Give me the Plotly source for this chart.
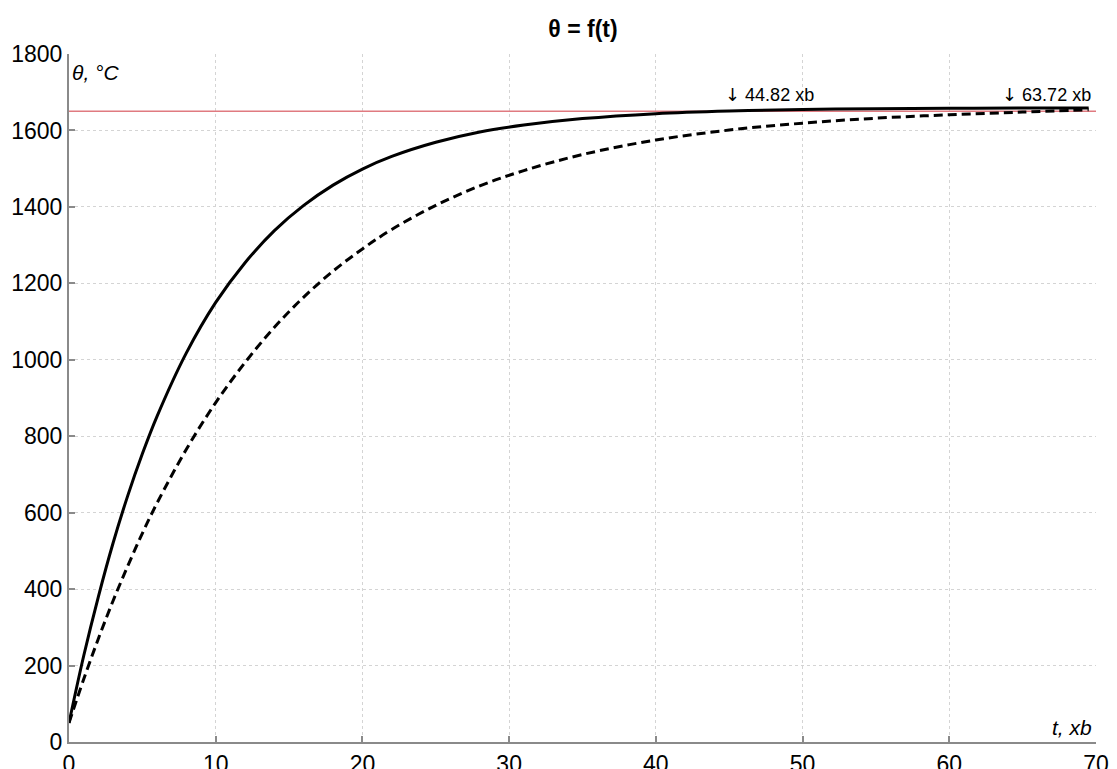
import plotly.graph_objects as go

# Data
t_points = [0, 1, 2, 3, 4, 5, 6, 8, 10, 12, 14, 16, 18, 20, 22, 25, 28, 31, 35, 40, 45, 50, 55, 60, 65, 69.5]
theta_solid = [50, 225, 380, 520, 644, 754, 852, 1018, 1150, 1254, 1338, 1404, 1457, 1499, 1532,
               1569, 1596, 1614, 1631, 1644, 1651, 1655, 1657, 1658, 1659, 1659]
theta_dashed = [50, 164, 270, 369, 460, 546, 625, 766, 888, 993, 1085, 1164, 1232, 1290, 1341,
                1404, 1455, 1495, 1537, 1575, 1601, 1619, 1632, 1641, 1648, 1654]
limit_temp = 1650
x_range = [0, 70]
y_range = [0, 1800]
x_ticks = [0, 10, 20, 30, 40, 50, 60, 70]
y_ticks = [0, 200, 400, 600, 800, 1000, 1200, 1400, 1600, 1800]
marker_times = [44.82, 63.72]
marker_labels = ["44.82 xb", "63.72 xb"]
marker_level = 1695

FONT = "Liberation Sans, Arial, sans-serif"
W, H = 1109, 761  # page body has an 8px margin

fig = go.Figure()
fig.add_trace(go.Scatter(x=x_range, y=[limit_temp, limit_temp], mode="lines",
                         line=dict(color="#e07a80", width=1.5), hoverinfo="skip"))
fig.add_trace(go.Scatter(x=t_points, y=theta_dashed, mode="lines", line_shape="spline",
                         line=dict(color="black", width=3, dash="9px,5px")))
fig.add_trace(go.Scatter(x=t_points, y=theta_solid, mode="lines", line_shape="spline",
                         line=dict(color="black", width=3)))

for tx, lab in zip(marker_times, marker_labels):
    fig.add_annotation(x=tx, y=marker_level, showarrow=False, xanchor="left", xshift=-4,
                       text="<span style='font-family:DejaVu Sans'>↓</span> " + lab,
                       font=dict(family=FONT, size=18, color="black"))

fig.add_annotation(x=0, y=1800, xref="x", yref="y", text="<i>θ, °C</i>", showarrow=False,
                   xanchor="left", yanchor="top", xshift=1, yshift=-5,
                   font=dict(family=FONT, size=21, color="black"))
fig.add_annotation(x=70, y=0, xref="x", yref="y", text="<i>t, xb</i>", showarrow=False,
                   xanchor="right", yanchor="bottom", xshift=-2, yshift=1,
                   font=dict(family=FONT, size=21, color="black"))

axis_common = dict(showline=True, linecolor="#8a8a8a", linewidth=2, ticks="inside",
                   ticklen=6, tickcolor="#8a8a8a", tickwidth=1.5, showgrid=True,
                   gridcolor="#d4d4d4", griddash="dot", gridwidth=1, zeroline=False,
                   tickfont=dict(family=FONT, size=23, color="black"), automargin=False)

fig.update_xaxes(range=x_range, tickvals=x_ticks, ticklabelstandoff=0, **axis_common)
fig.update_yaxes(range=y_range, tickvals=y_ticks, ticklabelstandoff=0, **axis_common)

fig.update_layout(
    width=W, height=H,
    margin=dict(l=61, r=21, t=46, b=27),
    paper_bgcolor="white", plot_bgcolor="white",
    showlegend=False,
    title=dict(text="<b>θ = f(t)</b>", x=575 / W, xanchor="center", y=1 - 21 / H, yanchor="middle",
               font=dict(family=FONT, size=23, color="black")),
)

fig.write_html("out.html")
